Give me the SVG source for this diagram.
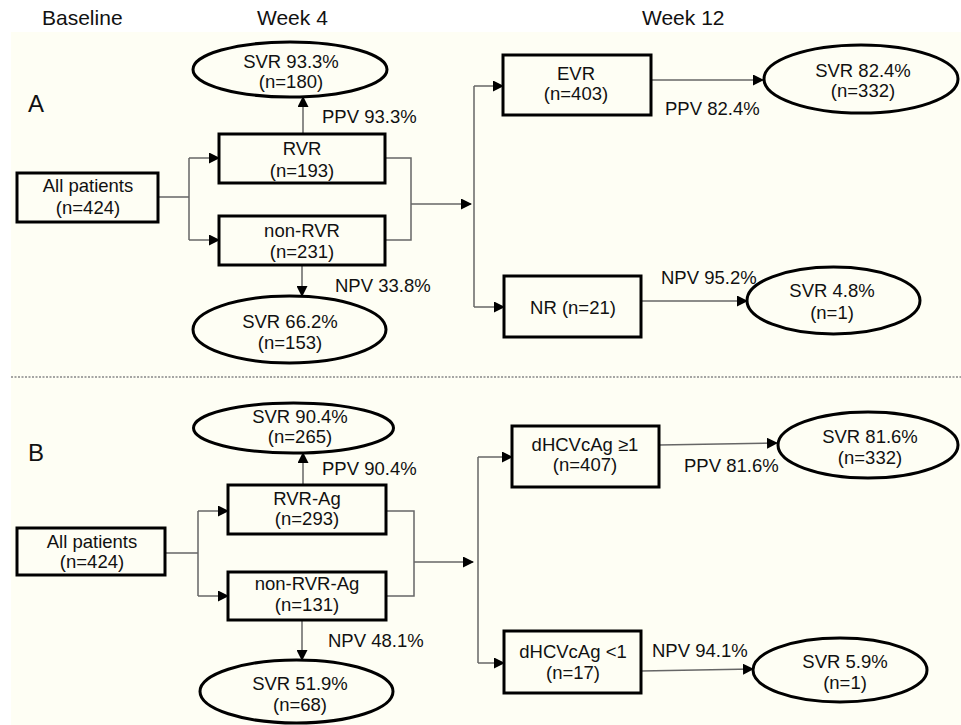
<svg xmlns="http://www.w3.org/2000/svg" width="961" height="725" viewBox="0 0 961 725">
<defs>
<marker id="ah" markerUnits="userSpaceOnUse" markerWidth="11" markerHeight="11" refX="10" refY="5.5" orient="auto">
<path d="M0,0 L11,5.5 L0,11 z" fill="#000"/>
</marker>
<style>
text{font-family:"Liberation Sans",Arial,sans-serif;font-size:18.5px;fill:#111}
.hd{font-size:21px}
.pl{font-size:24px}
.m{text-anchor:middle}
.box{fill:#fefef4;stroke:#000;stroke-width:3}
.ell{fill:#fefef4;stroke:#000;stroke-width:3}
.c{fill:none;stroke:#666;stroke-width:1.5}
.a{marker-end:url(#ah)}
</style>
</defs>
<rect x="0" y="0" width="961" height="725" fill="#fff"/>
<rect x="11" y="32" width="950" height="693" fill="#fefef4"/>
<line x1="11" y1="377" x2="961" y2="377" stroke="#888" stroke-width="1.5" stroke-dasharray="2,1.5"/>

<g id="headers">
<text class="hd" x="42" y="25">Baseline</text>
<text class="hd" x="257" y="25">Week 4</text>
<text class="hd" x="642" y="25">Week 12</text>
<text class="pl" x="28" y="112">A</text>
<text class="pl" x="28" y="461">B</text>
</g>

<g id="connectors">
<!-- Panel A -->
<path class="c" d="M158,197 H189 M189,158 V240"/>
<path class="c a" d="M189,158 H219"/>
<path class="c a" d="M189,240 H219"/>
<path class="c" d="M385,158 H411 V240 H385"/>
<path class="c a" d="M411,204 H471"/>
<path class="c" d="M474,86 V307"/>
<path class="c a" d="M474,86 H503"/>
<path class="c a" d="M474,307 H504"/>
<path class="c a" d="M651,80 H763"/>
<path class="c a" d="M641,301 H747"/>
<path class="c a" d="M303,134 V97"/>
<path class="c a" d="M302,266 V296"/>
<!-- Panel B -->
<path class="c" d="M165,553 H198 M198,511 V596"/>
<path class="c a" d="M198,511 H228"/>
<path class="c a" d="M198,596 H228"/>
<path class="c" d="M386,511 H414 V596 H386"/>
<path class="c a" d="M414,562 H473"/>
<path class="c" d="M478,457 V663"/>
<path class="c a" d="M478,457 H512"/>
<path class="c a" d="M478,663 H504"/>
<path class="c a" d="M659,445 L777,443"/>
<path class="c a" d="M641,671 L753,669"/>
<path class="c a" d="M303,485 V453"/>
<path class="c a" d="M302,620 V660"/>
</g>

<g id="labels">
<text x="322" y="123">PPV 93.3%</text>
<text x="665" y="115">PPV 82.4%</text>
<text x="661" y="284">NPV 95.2%</text>
<text x="335" y="292">NPV 33.8%</text>
<text x="322" y="475">PPV 90.4%</text>
<text x="684" y="472">PPV 81.6%</text>
<text x="652" y="657">NPV 94.1%</text>
<text x="328" y="647">NPV 48.1%</text>
</g>

<!-- Panel A nodes -->
<g id="a-all">
<rect class="box" x="17" y="173" width="141" height="49"/>
<text class="m" x="88" y="192">All patients</text>
<text class="m" x="88" y="214">(n=424)</text>
</g>
<g id="a-svr933">
<ellipse class="ell" cx="290" cy="69.5" rx="97" ry="27.5"/>
<text class="m" x="291" y="68">SVR 93.3%</text>
<text class="m" x="291" y="88">(n=180)</text>
</g>
<g id="a-rvr">
<rect class="box" x="219" y="134" width="166" height="49"/>
<text class="m" x="302" y="155">RVR</text>
<text class="m" x="302" y="177">(n=193)</text>
</g>
<g id="a-nonrvr">
<rect class="box" x="219" y="216" width="166" height="49"/>
<text class="m" x="302" y="237">non-RVR</text>
<text class="m" x="302" y="258">(n=231)</text>
</g>
<g id="a-svr662">
<ellipse class="ell" cx="289.5" cy="329.5" rx="96.5" ry="33.5"/>
<text class="m" x="290" y="328">SVR 66.2%</text>
<text class="m" x="290" y="349">(n=153)</text>
</g>
<g id="a-evr">
<rect class="box" x="503" y="55" width="148" height="60"/>
<text class="m" x="576" y="80">EVR</text>
<text class="m" x="576" y="100">(n=403)</text>
</g>
<g id="a-svr824">
<ellipse class="ell" cx="861" cy="79" rx="97" ry="34"/>
<text class="m" x="863" y="77">SVR 82.4%</text>
<text class="m" x="863" y="97">(n=332)</text>
</g>
<g id="a-nr">
<rect class="box" x="504" y="276" width="137" height="61"/>
<text class="m" x="573" y="314">NR (n=21)</text>
</g>
<g id="a-svr48">
<ellipse class="ell" cx="833.5" cy="300.5" rx="86.5" ry="33.5"/>
<text class="m" x="832" y="297">SVR 4.8%</text>
<text class="m" x="832" y="319">(n=1)</text>
</g>

<!-- Panel B nodes -->
<g id="b-all">
<rect class="box" x="17" y="528" width="148" height="47"/>
<text class="m" x="92" y="548">All patients</text>
<text class="m" x="92" y="568">(n=424)</text>
</g>
<g id="b-svr904">
<ellipse class="ell" cx="293.5" cy="428" rx="100" ry="25"/>
<text class="m" x="300" y="423">SVR 90.4%</text>
<text class="m" x="300" y="443">(n=265)</text>
</g>
<g id="b-rvrag">
<rect class="box" x="228" y="485" width="158" height="49"/>
<text class="m" x="307" y="505">RVR-Ag</text>
<text class="m" x="307" y="525">(n=293)</text>
</g>
<g id="b-nonrvrag">
<rect class="box" x="228" y="572" width="158" height="48"/>
<text class="m" x="307" y="590">non-RVR-Ag</text>
<text class="m" x="307" y="611">(n=131)</text>
</g>
<g id="b-svr519">
<ellipse class="ell" cx="296.5" cy="691.5" rx="96.5" ry="31.5"/>
<text class="m" x="300" y="690">SVR 51.9%</text>
<text class="m" x="300" y="711">(n=68)</text>
</g>
<g id="b-dhcv-ge1">
<rect class="box" x="512" y="426" width="147" height="61"/>
<text class="m" x="585" y="451">dHCVcAg ≥1</text>
<text class="m" x="585" y="471">(n=407)</text>
</g>
<g id="b-svr816">
<ellipse class="ell" cx="868" cy="445" rx="90" ry="33"/>
<text class="m" x="870" y="443">SVR 81.6%</text>
<text class="m" x="870" y="464">(n=332)</text>
</g>
<g id="b-dhcv-lt1">
<rect class="box" x="504" y="631" width="137" height="62"/>
<text class="m" x="573" y="658">dHCVcAg &lt;1</text>
<text class="m" x="573" y="679">(n=17)</text>
</g>
<g id="b-svr59">
<ellipse class="ell" cx="840" cy="670" rx="87" ry="32"/>
<text class="m" x="845" y="668">SVR 5.9%</text>
<text class="m" x="845" y="689">(n=1)</text>
</g>
</svg>
